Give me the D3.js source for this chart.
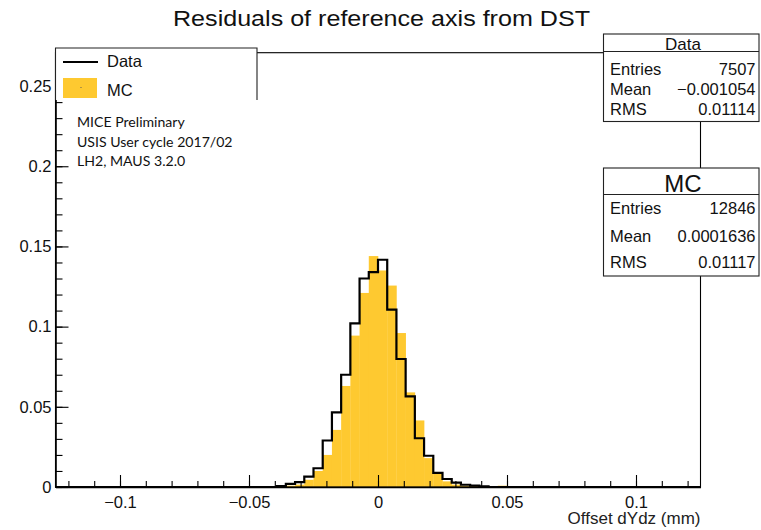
<!DOCTYPE html>
<html><head><meta charset="utf-8">
<script src="https://cdn.jsdelivr.net/npm/d3@7"></script>
<style>body{margin:0;background:#fff} svg{display:block}</style>
</head><body>
<svg id="c" width="761" height="530"></svg>
<script>
// ---- data ----
const title = "Residuals of reference axis from DST";
const xAxisTitle = "Offset dYdz (mm)";
const xRange = [-0.125, 0.125];
const yRange = [0, 0.2708];
const nBins = 70;
// normalised bin contents, 70 bins over xRange
const dataValues = [
  0,0,0,0,0,0,0,0,0,0,
  0,0,0,0,0,0,0,0,0,0,
  0,0,0,0,0.0006,0.0019,0.003,0.0065,0.0117,0.029,
  0.0465,0.070,0.102,0.130,0.134,0.1417,0.1106,0.0798,0.0565,0.0304,
  0.0195,0.0088,0.005,0.0027,0.0014,0.0009,0.0004,0,0,0,
  0,0,0,0,0,0,0,0,0,0,
  0,0,0,0,0,0,0,0,0,0
];
const mcValues = [
  0,0,0,0,0,0,0,0,0,0,
  0,0,0,0,0,0,0,0,0,0,
  0,0,0,0,0.0002,0.0008,0.0015,0.0045,0.0100,0.020,
  0.0356,0.063,0.0944,0.121,0.144,0.135,0.1256,0.096,0.059,0.0415,
  0.018,0.0085,0.0035,0.0015,0.0008,0.0006,0.0002,0,0.0008,0,
  0,0,0,0,0,0,0,0,0,0,
  0,0,0,0,0,0,0,0,0,0
];
const xMajorTicks = [-0.1, -0.05, 0, 0.05, 0.1];
const xTickLabels = ["\u22120.1", "\u22120.05", "0", "0.05", "0.1"];
const yMajorTicks = [0, 0.05, 0.1, 0.15, 0.2, 0.25];
const yTickLabels = ["0", "0.05", "0.1", "0.15", "0.2", "0.25"];
const legendLabels = ["Data", "MC"];
const noteLines = ["MICE Preliminary", "USIS User cycle 2017/02", "LH2, MAUS 3.2.0"];
const statNames = ["Data", "MC"];
const statRows = ["Entries", "Mean", "RMS"];
const statDataValues = ["7507", "\u22120.001054", "0.01114"];
const statMcValues = ["12846", "0.0001636", "0.01117"];

// ---- layout ----
const FONT = "'Liberation Sans', Arial, Helvetica, sans-serif";
const svg = d3.select("#c");
const L = 55.5, R = 700.5, T = 52.7, B = 487;
const x = d3.scaleLinear().domain(xRange).range([L, R]);
const y = d3.scaleLinear().domain(yRange).range([B, T]);
const bw = (xRange[1] - xRange[0]) / nBins;
const bins = d3.range(nBins).map(i => ({x0: xRange[0] + i * bw, x1: xRange[0] + (i + 1) * bw, d: dataValues[i], m: mcValues[i]}));
const YELLOW = "#fec930";

// MC filled histogram
svg.append("g").selectAll("rect").data(bins.filter(b => b.m > 0)).join("rect")
  .attr("x", b => x(b.x0)).attr("width", b => x(b.x1) - x(b.x0) + 0.3)
  .attr("y", b => y(b.m)).attr("height", b => y(0) - y(b.m))
  .attr("fill", YELLOW);

// Data step line
const pts = [];
bins.forEach(b => { pts.push([x(b.x0), y(b.d)]); pts.push([x(b.x1), y(b.d)]); });
svg.append("path").attr("d", d3.line()(pts))
  .attr("fill", "none").attr("stroke", "#000").attr("stroke-width", 2.2)
  .attr("stroke-linejoin", "miter");

// frame
svg.append("rect").attr("x", L).attr("y", T).attr("width", R - L).attr("height", B - T)
  .attr("fill", "none").attr("stroke", "#000").attr("stroke-width", 1.1);

// x axis
const xMinor = d3.range(-12, 13).map(v => v / 100);
svg.append("g").attr("transform", `translate(0,${B})`)
  .call(d3.axisBottom(x).tickValues(xMinor).tickSize(-6).tickSizeOuter(0).tickFormat(""))
  .call(g => g.select(".domain").remove());
const gx = svg.append("g").attr("transform", `translate(0,${B})`)
  .call(d3.axisBottom(x).tickValues(xMajorTicks).tickSize(-12).tickSizeOuter(0)
    .tickPadding(9).tickFormat((d, i) => xTickLabels[i]));
gx.select(".domain").attr("stroke-width", 1.6);
gx.selectAll("text").attr("font-family", FONT).attr("font-size", 16.5).attr("fill", "#111");

// y axis
const yMinor = d3.range(0, 28).map(v => v / 100);
svg.append("g").attr("transform", `translate(${L},0)`)
  .call(d3.axisLeft(y).tickValues(yMinor).tickSize(-7).tickSizeOuter(0).tickFormat(""))
  .call(g => g.select(".domain").remove());
const gy = svg.append("g").attr("transform", `translate(${L},0)`)
  .call(d3.axisLeft(y).tickValues(yMajorTicks).tickSize(-13).tickSizeOuter(0)
    .tickPadding(4).tickFormat((d, i) => yTickLabels[i]));
gy.select(".domain").attr("stroke-width", 1.6);
gy.selectAll("text").attr("font-family", FONT).attr("font-size", 16.5).attr("fill", "#111");
svg.selectAll(".tick line").attr("stroke-width", 1.1);

// x-axis title
svg.append("text").attr("x", R).attr("y", 524).attr("text-anchor", "end")
  .attr("font-family", FONT).attr("font-size", 17).attr("fill", "#222").text(xAxisTitle);

// title
svg.append("text").attr("x", 173).attr("y", 26)
  .attr("textLength", 417).attr("lengthAdjust", "spacingAndGlyphs")
  .attr("font-family", FONT).attr("font-size", 22).attr("fill", "#111").text(title);

// legend
const lg = svg.append("g");
lg.append("rect").attr("x", L).attr("y", 48).attr("width", 257 - L).attr("height", 52).attr("fill", "#fff");
lg.append("path").attr("d", `M${L},100 V48 H257 V100`).attr("fill", "none").attr("stroke", "#222").attr("stroke-width", 1.1);
lg.append("line").attr("x1", 63).attr("x2", 98).attr("y1", 62).attr("y2", 62).attr("stroke", "#000").attr("stroke-width", 2);
lg.append("rect").attr("x", 63).attr("y", 78).attr("width", 34).attr("height", 20).attr("fill", YELLOW);
lg.append("circle").attr("cx", 81).attr("cy", 87.5).attr("r", 0.6).attr("fill", "#555");
lg.selectAll("text.lab").data(legendLabels).join("text").attr("class", "lab")
  .attr("x", 107).attr("y", (d, i) => 67 + i * 28.5)
  .attr("font-family", FONT).attr("font-size", 16.5).attr("fill", "#111").text(d => d);

// note
svg.append("g").selectAll("text").data(noteLines).join("text")
  .attr("x", 77).attr("y", (d, i) => 127 + i * 19.5)
  .attr("font-family", "Lato, 'Open Sans', sans-serif").attr("font-size", 14.1).attr("fill", "#111").text(d => d);

// stat boxes
function statBox(top, hdrBottom, bottom, name, values, hdrSize, hdrBase, rowBase) {
  const g = svg.append("g");
  g.append("rect").attr("x", 603.5).attr("y", top).attr("width", 759 - 603.5).attr("height", bottom - top)
    .attr("fill", "#fff").attr("stroke", "#222").attr("stroke-width", 1.1);
  g.append("line").attr("x1", 603.5).attr("x2", 759).attr("y1", hdrBottom).attr("y2", hdrBottom)
    .attr("stroke", "#222").attr("stroke-width", 1.1);
  g.append("text").attr("x", 683).attr("y", hdrBase).attr("text-anchor", "middle")
    .attr("font-family", FONT).attr("font-size", hdrSize).attr("fill", "#111").text(name);
  statRows.forEach((r, i) => {
    g.append("text").attr("x", 610).attr("y", rowBase[i]).attr("font-family", FONT)
      .attr("font-size", 16.5).attr("fill", "#111").text(r);
    g.append("text").attr("x", 755.5).attr("y", rowBase[i]).attr("text-anchor", "end").attr("font-family", FONT)
      .attr("font-size", 16.5).attr("fill", "#111").text(values[i]);
  });
}
statBox(34, 51.5, 121.5, statNames[0], statDataValues, 17, 49.5, [75, 95, 115]);
statBox(168, 194.5, 276, statNames[1], statMcValues, 24, 191.5, [214, 242, 267.5]);
</script>
</body></html>
